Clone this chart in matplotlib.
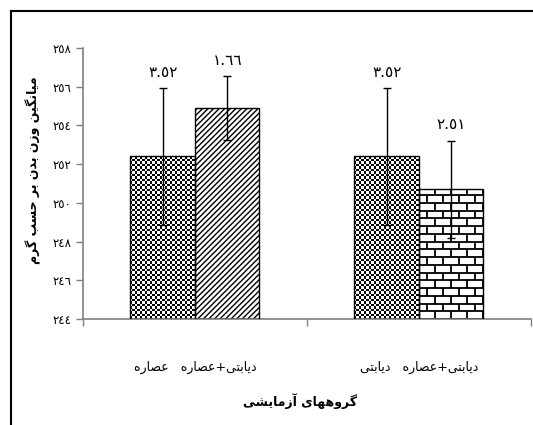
import matplotlib
matplotlib.use("Agg")
import matplotlib.pyplot as plt
from matplotlib.lines import Line2D
from matplotlib.collections import LineCollection
import numpy as np

plt.rcParams['font.family'] = ['DejaVu Sans']

# data
groups = ['دیابتی+عصاره   عصاره', 'دیابتی+عصاره   دیابتی']
left_means = [252.4, 252.4]
left_sd = [3.52, 3.52]
right_means = [254.9, 250.7]
right_sd = [1.66, 2.51]
y_ticks = [244, 246, 248, 250, 252, 254, 256, 258]
y_label = 'میانگین وزن بدن بر حسب گرم'
x_label = 'گروههای آزمایشی'

# matplotlib has no arabic shaping, so map letters to presentation forms
# (isolated, final, initial, medial)
FORMS = {
    'ا': ('\uFE8D', '\uFE8E', None, None),
    'آ': ('\uFE81', '\uFE82', None, None),
    'ب': ('\uFE8F', '\uFE90', '\uFE91', '\uFE92'),
    'ت': ('\uFE95', '\uFE96', '\uFE97', '\uFE98'),
    'ح': ('\uFEA1', '\uFEA2', '\uFEA3', '\uFEA4'),
    'د': ('\uFEA9', '\uFEAA', None, None),
    'ر': ('\uFEAD', '\uFEAE', None, None),
    'ز': ('\uFEAF', '\uFEB0', None, None),
    'س': ('\uFEB1', '\uFEB2', '\uFEB3', '\uFEB4'),
    'ش': ('\uFEB5', '\uFEB6', '\uFEB7', '\uFEB8'),
    'ص': ('\uFEB9', '\uFEBA', '\uFEBB', '\uFEBC'),
    'ع': ('\uFEC9', '\uFECA', '\uFECB', '\uFECC'),
    'م': ('\uFEE1', '\uFEE2', '\uFEE3', '\uFEE4'),
    'ن': ('\uFEE5', '\uFEE6', '\uFEE7', '\uFEE8'),
    'ه': ('\uFEE9', '\uFEEA', '\uFEEB', '\uFEEC'),
    'و': ('\uFEED', '\uFEEE', None, None),
    'ی': ('\uFBFC', '\uFBFD', '\uFBFE', '\uFBFF'),
    'گ': ('\uFB92', '\uFB93', '\uFB94', '\uFB95'),
}


def shape(text):
    out = []
    for i, ch in enumerate(text):
        if ch not in FORMS:
            out.append(ch)
            continue
        prev = text[i - 1] if i > 0 else ''
        nxt = text[i + 1] if i + 1 < len(text) else ''
        f = FORMS[ch]
        join_prev = prev in FORMS and FORMS[prev][2] is not None
        join_next = f[2] is not None and nxt in FORMS
        if join_prev and join_next:
            out.append(f[3])
        elif join_prev:
            out.append(f[1])
        elif join_next:
            out.append(f[2])
        else:
            out.append(f[0])
    return ''.join(reversed(out))


def ar_digits(s):
    return s.translate(str.maketrans('0123456789', '٠١٢٣٤٥٦٧٨٩'))


fig = plt.figure(figsize=(5.33, 4.25), dpi=100)
ax = fig.add_axes([0.1557, 0.2494, 0.8405, 0.6376])

x = np.arange(len(groups)) + 0.5
w = 0.288

# left bars: checkerboard fill clipped to each bar
left_bars = ax.bar(x - w / 2, np.array(left_means) - 244, w, bottom=244,
                   color='white', linewidth=0)
for rect in left_bars.patches:
    bx, by = rect.get_x(), rect.get_y()
    bw, bh = rect.get_width(), rect.get_height()
    nx = 26
    ny = int(round(bh / 0.13))
    board = (np.indices((ny, nx)).sum(axis=0) % 2).astype(float)
    im = ax.imshow(board, cmap='gray', vmin=0, vmax=1, aspect='auto',
                   interpolation='nearest', extent=(bx, bx + bw, by, by + bh),
                   zorder=2)
    im.set_clip_path(rect)

# right bars: diagonal for first group, brick for second
ax.bar(x[0] + w / 2, right_means[0] - 244, w, bottom=244, color='white',
       edgecolor='black', hatch='//////', linewidth=0)
b2 = ax.bar(x[1] + w / 2, right_means[1] - 244, w, bottom=244, color='white',
            linewidth=0)

# brick pattern clipped to the second bar
rect = b2.patches[0]
x0, x1 = rect.get_x(), rect.get_x() + rect.get_width()
row_h = 0.4
brick_w = 0.071
segs = []
rows = np.arange(244, right_means[1] + row_h, row_h)
for k, yb in enumerate(rows):
    segs.append([(x0, yb), (x1, yb)])
    off = 0 if k % 2 == 0 else brick_w / 2
    for xv in np.arange(x0 + off, x1 + brick_w, brick_w):
        segs.append([(xv, yb), (xv, yb + row_h)])
lc = LineCollection(segs, colors='black', linewidths=1.3)
ax.add_collection(lc)
lc.set_clip_path(rect)

# outlines
ax.bar(x - w / 2, np.array(left_means) - 244, w, bottom=244, fill=False,
       edgecolor='black', linewidth=1.0, zorder=3)
ax.bar(x + w / 2, np.array(right_means) - 244, w, bottom=244, fill=False,
       edgecolor='black', linewidth=1.0, zorder=3)

# error bars
ax.errorbar(x - w / 2, left_means, yerr=left_sd, fmt='none', ecolor='black',
            elinewidth=1.0, capsize=3, capthick=1.0, zorder=4)
ax.errorbar(x + w / 2, right_means, yerr=right_sd, fmt='none', ecolor='black',
            elinewidth=1.0, capsize=3, capthick=1.0, zorder=4)

for xs, ms, sds in [(x - w / 2, left_means, left_sd), (x + w / 2, right_means, right_sd)]:
    for xi, m, s in zip(xs, ms, sds):
        ax.annotate(ar_digits(f'{s:.2f}'), (xi, m + s), xytext=(0, 6),
                    textcoords='offset points', ha='center', va='bottom',
                    fontsize=11)

ax.set_xlim(0, 2)
ax.set_ylim(244, 258)
ax.set_yticks(y_ticks)
ax.set_yticklabels([ar_digits(str(t)) for t in y_ticks], fontsize=8.5)
ax.set_xticks([0, 1, 2])
ax.set_xticklabels([])
ax.set_xticks(x, [shape(g) for g in groups], minor=True, fontsize=9)
ax.tick_params(axis='x', which='minor', length=0, pad=30)
ax.tick_params(axis='both', which='major', color='#808080', length=5, width=1)

for s in ['top', 'right']:
    ax.spines[s].set_visible(False)
for s in ['left', 'bottom']:
    ax.spines[s].set_color('#808080')
    ax.spines[s].set_linewidth(1.2)

fig.text(0.062, 0.60, shape(y_label), rotation=90, ha='center', va='center',
         fontsize=9, fontweight='bold')
fig.text(0.563, 0.057, shape(x_label), ha='center', va='center',
         fontsize=9, fontweight='bold')

# page frame lines
fig.add_artist(Line2D([0.0197, 1.0], [0.975, 0.975], color='black', lw=1.5,
                      transform=fig.transFigure))
fig.add_artist(Line2D([0.0197, 0.0197], [0.0, 0.975], color='black', lw=1.5,
                      transform=fig.transFigure))

fig.savefig('out.png', dpi=100)
